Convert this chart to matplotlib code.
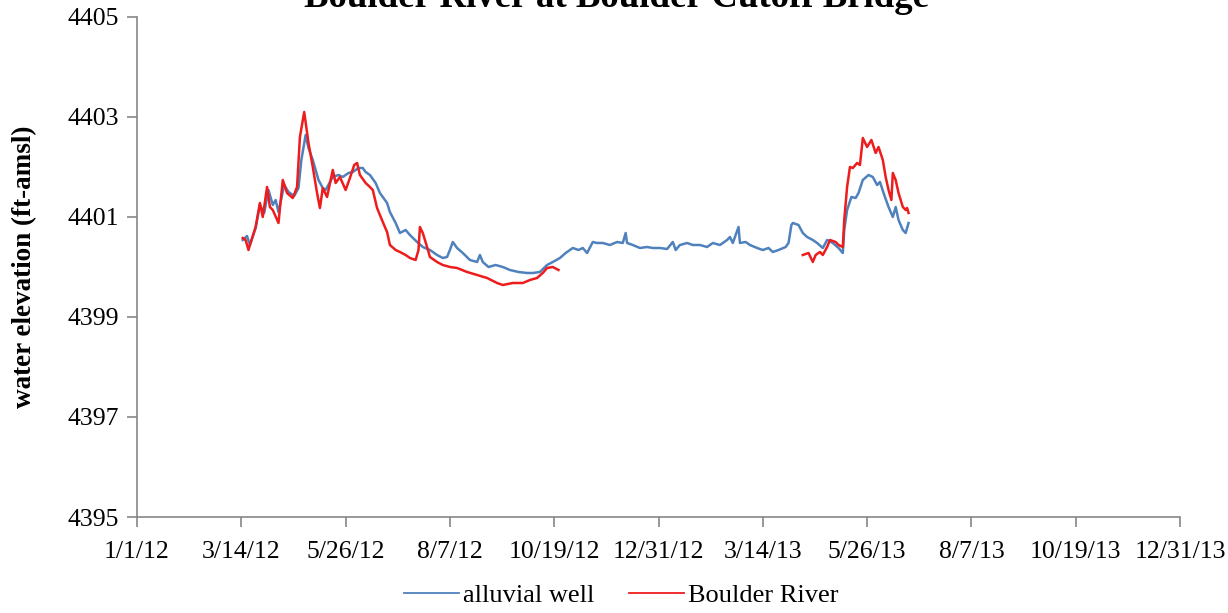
import matplotlib
matplotlib.use("Agg")
import matplotlib.pyplot as plt
import pandas as pd

# ---------------------------------------------------------------
# data (days counted from 1/1/12)
# ---------------------------------------------------------------
start = pd.Timestamp("2012-01-01")

well_day = [74, 77, 79, 83, 86, 89, 92, 95, 97, 99, 103, 106, 110, 113, 115, 118, 120,
            123, 127, 130, 132, 137, 141, 144, 148, 151, 155, 158, 160, 163, 167, 170,
            175, 177, 181, 184, 188, 191, 196, 200, 205, 210, 214, 217, 219, 221, 224,
            228, 233, 238, 240, 242, 246, 251, 256, 261, 267, 273, 277, 282, 287, 291,
            296, 300, 305, 309, 312, 315, 319, 322, 326, 331, 336, 340, 342, 343, 347,
            352, 357, 361, 366, 371, 375, 377, 380, 385, 389, 394, 399, 403, 408, 413,
            415, 417, 421, 422, 426, 429, 434, 438, 442, 445, 449, 454, 456, 458, 459,
            463, 466, 469, 473, 476, 480, 483, 487, 491, 494, 495, 497, 500, 503, 505,
            508, 512, 515, 518, 520, 523, 526, 529, 531, 533, 536, 538, 540]
well_elev = [4400.54, 4400.62, 4400.44, 4400.78, 4401.24, 4401.08, 4401.54, 4401.24,
             4401.34, 4401.10, 4401.64, 4401.50, 4401.42, 4401.58, 4402.14, 4402.64,
             4402.38, 4402.14, 4401.74, 4401.58, 4401.54, 4401.80, 4401.84, 4401.80,
             4401.88, 4401.90, 4401.98, 4401.98, 4401.90, 4401.84, 4401.68, 4401.48,
             4401.28, 4401.10, 4400.88, 4400.68, 4400.74, 4400.64, 4400.50, 4400.40,
             4400.34, 4400.24, 4400.18, 4400.20, 4400.34, 4400.50, 4400.38, 4400.28,
             4400.14, 4400.10, 4400.24, 4400.10, 4400.00, 4400.04, 4400.00, 4399.94,
             4399.90, 4399.88, 4399.88, 4399.90, 4400.04, 4400.10, 4400.18, 4400.28,
             4400.38, 4400.34, 4400.38, 4400.28, 4400.50, 4400.48, 4400.48, 4400.44,
             4400.50, 4400.48, 4400.68, 4400.48, 4400.44, 4400.38, 4400.40, 4400.38,
             4400.38, 4400.36, 4400.50, 4400.34, 4400.44, 4400.48, 4400.44, 4400.44,
             4400.40, 4400.48, 4400.44, 4400.54, 4400.60, 4400.48, 4400.80, 4400.48,
             4400.50, 4400.44, 4400.38, 4400.34, 4400.38, 4400.30, 4400.34, 4400.40,
             4400.48, 4400.84, 4400.88, 4400.84, 4400.68, 4400.60, 4400.54, 4400.48,
             4400.38, 4400.54, 4400.48, 4400.38, 4400.28, 4400.74, 4401.14, 4401.40,
             4401.38, 4401.48, 4401.74, 4401.84, 4401.80, 4401.64, 4401.70, 4401.44,
             4401.20, 4401.00, 4401.20, 4400.94, 4400.74, 4400.68, 4400.88]

# river gauge: spring-fall 2012, then again from spring 2013
river_day_2012 = [74, 76, 78, 79, 83, 86, 88, 91, 93, 95, 99, 102, 105, 109, 112, 114, 117,
                  120, 123, 126, 128, 130, 133, 137, 139, 142, 146, 149, 152, 154, 156,
                  160, 163, 165, 168, 172, 175, 177, 181, 184, 188, 191, 195, 197, 198,
                  200, 203, 205, 210, 214, 219, 224, 231, 238, 245, 252, 256, 263, 270,
                  275, 280, 284, 287, 291, 295]
river_elev_2012 = [4400.58, 4400.54, 4400.34, 4400.44, 4400.80, 4401.28, 4401.00, 4401.60,
                   4401.20, 4401.14, 4400.88, 4401.74, 4401.48, 4401.38, 4401.60, 4402.60,
                   4403.10, 4402.48, 4402.00, 4401.48, 4401.18, 4401.58, 4401.40, 4401.94,
                   4401.68, 4401.80, 4401.54, 4401.78, 4402.04, 4402.08, 4401.84, 4401.68,
                   4401.60, 4401.54, 4401.18, 4400.90, 4400.70, 4400.44, 4400.34, 4400.30,
                   4400.24, 4400.18, 4400.14, 4400.34, 4400.80, 4400.68, 4400.40, 4400.20,
                   4400.10, 4400.04, 4400.00, 4399.98, 4399.90, 4399.84, 4399.78, 4399.68,
                   4399.64, 4399.68, 4399.68, 4399.74, 4399.78, 4399.88, 4399.98, 4400.00,
                   4399.94]
river_day_2013 = [466, 470, 473, 475, 478, 480, 483, 485, 489, 491, 494, 495, 497, 499, 501,
                  504, 506, 508, 511, 514, 517, 519, 522, 524, 526, 528, 529, 531, 533, 536,
                  538, 539, 540]
river_elev_2013 = [4400.24, 4400.28, 4400.10, 4400.24, 4400.30, 4400.24, 4400.40, 4400.54,
                   4400.50, 4400.44, 4400.40, 4400.94, 4401.60, 4402.00, 4401.98, 4402.08,
                   4402.04, 4402.58, 4402.40, 4402.54, 4402.28, 4402.40, 4402.14, 4401.80,
                   4401.54, 4401.34, 4401.88, 4401.74, 4401.48, 4401.20, 4401.14, 4401.18,
                   4401.08]

tick_days = [0, 73, 146, 219, 292, 365, 438, 511, 584, 657, 730]
y_ticks = [4395, 4397, 4399, 4401, 4403, 4405]


def to_dates(days):
    return start + pd.to_timedelta(days, unit='D')


# ---------------------------------------------------------------
# figure
# ---------------------------------------------------------------
plt.rcParams['font.family'] = ['Liberation Serif', 'DejaVu Serif']

fig = plt.figure(figsize=(12.28, 6.13), dpi=100)
ax = fig.add_axes([0.1116, 0.1566, 0.8493, 0.8157])

well_color = '#4f81bd'
river_color = '#ee1c1c'
ax.plot(to_dates(well_day), well_elev, color=well_color, linewidth=1.8, label='alluvial well')
ax.plot(to_dates(river_day_2012), river_elev_2012, color=river_color, linewidth=1.8,
        label='Boulder River')
ax.plot(to_dates(river_day_2013), river_elev_2013, color=river_color, linewidth=1.8)

tick_x = to_dates(tick_days)
ax.set_xlim(tick_x[0], tick_x[-1])
ax.set_xticks(tick_x)
ax.set_xticklabels([f"{t.month}/{t.day}/{t.strftime('%y')}" for t in tick_x])
ax.set_ylim(4395, 4405)
ax.set_yticks(y_ticks)

for side in ['top', 'right']:
    ax.spines[side].set_visible(False)
for side in ['left', 'bottom']:
    ax.spines[side].set_color('#868686')
    ax.spines[side].set_linewidth(1.2)
ax.tick_params(axis='both', direction='out', length=7, width=1.2, color='#868686',
               labelsize=18.5, labelcolor='black')
ax.tick_params(axis='x', pad=10)
ax.tick_params(axis='y', pad=6)

ax.set_ylabel('water elevation (ft-amsl)', fontsize=19.5, fontweight='bold', labelpad=22)

# title sits partly above the top edge, as in the source image
fig.text(0.502, 0.9886, 'Boulder River at Boulder Cutoff Bridge', ha='center',
         va='baseline', fontsize=26.5, fontweight='bold')

leg = fig.legend(loc='center', bbox_to_anchor=(0.506, 0.029), ncol=2, frameon=False,
                 fontsize=19, handlelength=2.1, columnspacing=1.3, handletextpad=0.15)
for line in leg.get_lines():
    line.set_linewidth(1.3)

fig.savefig('out.png', dpi=100)
